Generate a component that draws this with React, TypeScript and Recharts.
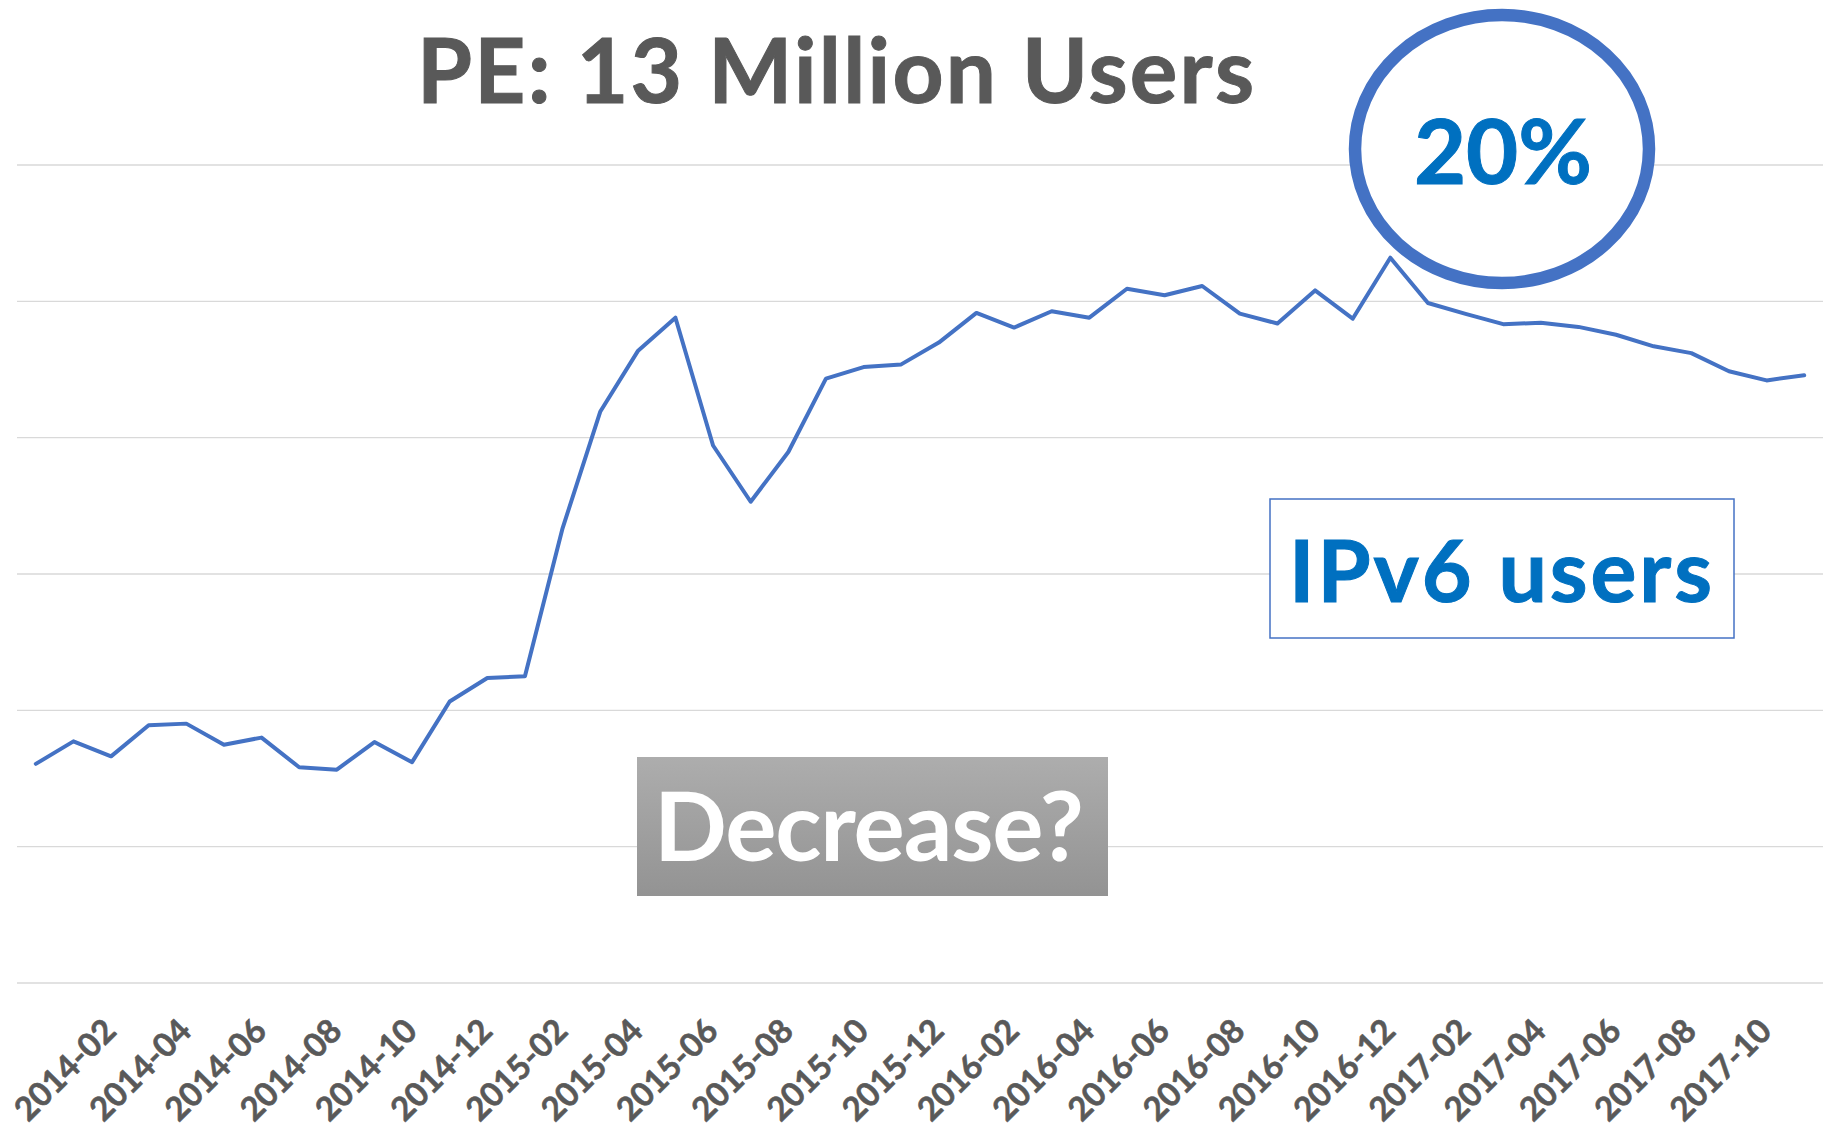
import React from 'react';
import { LineChart, Line, XAxis, YAxis, CartesianGrid } from 'recharts';

const MONTHS = [
  '2013-12',
  '2014-01', '2014-02', '2014-03', '2014-04', '2014-05', '2014-06',
  '2014-07', '2014-08', '2014-09', '2014-10', '2014-11', '2014-12',
  '2015-01', '2015-02', '2015-03', '2015-04', '2015-05', '2015-06',
  '2015-07', '2015-08', '2015-09', '2015-10', '2015-11', '2015-12',
  '2016-01', '2016-02', '2016-03', '2016-04', '2016-05', '2016-06',
  '2016-07', '2016-08', '2016-09', '2016-10', '2016-11', '2016-12',
  '2017-01', '2017-02', '2017-03', '2017-04', '2017-05', '2017-06',
  '2017-07', '2017-08', '2017-09', '2017-10', '2017-11',
];

// IPv6 share (%)
const IPV6_SHARE = [
  6.43, 7.09, 6.65, 7.56, 7.61, 6.99, 7.2, 6.33, 6.26, 7.07,
  6.48, 8.26, 8.95, 9.0, 13.34, 16.76, 18.54, 19.52, 15.77, 14.12,
  15.58, 17.73, 18.07, 18.15, 18.79, 19.66, 19.23, 19.71, 19.52, 20.37,
  20.18, 20.45, 19.64, 19.35, 20.32, 19.49, 21.28, 19.95, 19.63, 19.33,
  19.37, 19.25, 19.02, 18.68, 18.48, 17.95, 17.68, 17.83,
];

const TICK_LABELS = [
  '2014-02', '2014-04', '2014-06', '2014-08', '2014-10', '2014-12',
  '2015-02', '2015-04', '2015-06', '2015-08', '2015-10', '2015-12',
  '2016-02', '2016-04', '2016-06', '2016-08', '2016-10', '2016-12',
  '2017-02', '2017-04', '2017-06', '2017-08', '2017-10',
];

const Y_TICKS = [0, 4, 8, 12, 16, 20, 24];

const TITLE = 'PE: 13 Million Users';
const PEAK_NOTE = '20%';
const SERIES_NOTE = 'IPv6 users';
const QUESTION_NOTE = 'Decrease?';

const W = 1832;
const H = 1129;
const FONT = 'Lato, "Open Sans", sans-serif';

const data = MONTHS.map((month, i) => ({ month, share: IPV6_SHARE[i] }));

const AxisTick = (props: any) => {
  const { x, y, payload } = props;
  const bx = x + 7;
  const by = y + 42;
  return (
    <text
      x={bx}
      y={by}
      transform={`rotate(-45 ${bx} ${by})`}
      textAnchor="end"
      fontFamily={FONT}
      fontWeight={700}
      fontSize={33}
      fill="#595959"
      stroke="#595959"
      strokeWidth={0.6}
    >
      {payload.value}
    </text>
  );
};

const Overlay = () => (
  <svg
    width={W}
    height={H}
    style={{ position: 'absolute', left: 0, top: 0, pointerEvents: 'none' }}
  >
    <defs>
      <linearGradient id="greyBox" x1="0" y1="0" x2="0" y2="1">
        <stop offset="0%" stopColor="#ADADAD" />
        <stop offset="100%" stopColor="#939393" />
      </linearGradient>
    </defs>

    <text
      x={835.5}
      y={103}
      textAnchor="middle"
      fontFamily={FONT}
      fontWeight={700}
      fontSize={89}
      fill="#595959"
      stroke="#595959"
      strokeWidth={1}
      textLength={837}
      lengthAdjust="spacing"
    >
      {TITLE}
    </text>

    <ellipse cx={1502} cy={149} rx={147} ry={134} fill="#FFFFFF" stroke="#4472C4" strokeWidth={12.5} />
    <text
      x={1503}
      y={184}
      textAnchor="middle"
      fontFamily={FONT}
      fontWeight={700}
      fontSize={90}
      fill="#0070C0"
      stroke="#0070C0"
      strokeWidth={1}
    >
      {PEAK_NOTE}
    </text>

    <rect x={1270} y={499} width={464} height={139} fill="#FFFFFF" stroke="#4472C4" strokeWidth={1.5} />
    <text
      x={1500.5}
      y={602}
      textAnchor="middle"
      fontFamily={FONT}
      fontWeight={700}
      fontSize={86}
      fill="#0070C0"
      stroke="#0070C0"
      strokeWidth={1}
      textLength={423}
      lengthAdjust="spacing"
    >
      {SERIES_NOTE}
    </text>

    <rect x={637} y={757} width={471} height={139} fill="url(#greyBox)" />
    <text
      x={869}
      y={861}
      textAnchor="middle"
      fontFamily={FONT}
      fontWeight={700}
      fontSize={96}
      fill="#FFFFFF"
      textLength={430}
      lengthAdjust="spacing"
    >
      {QUESTION_NOTE}
    </text>
  </svg>
);

export default function App() {
  return (
    <div style={{ position: 'absolute', left: 0, top: 0, width: W, height: H, background: '#FFFFFF' }}>
      <LineChart width={W} height={H} data={data} margin={{ top: 165, right: 9, left: 17, bottom: 0 }}>
        <CartesianGrid vertical={false} stroke="#D9D9D9" strokeWidth={1.3} />
        <XAxis
          dataKey="month"
          ticks={TICK_LABELS}
          interval={0}
          tick={<AxisTick />}
          axisLine={false}
          tickLine={false}
          height={146}
          padding={{ left: 18.8, right: 18.8 }}
        />
        <YAxis hide domain={[0, 24]} ticks={Y_TICKS} />
        <Line
          type="linear"
          dataKey="share"
          stroke="#4472C4"
          strokeWidth={4}
          strokeLinejoin="round"
          strokeLinecap="round"
          dot={false}
          isAnimationActive={false}
        />
      </LineChart>
      <Overlay />
    </div>
  );
}
